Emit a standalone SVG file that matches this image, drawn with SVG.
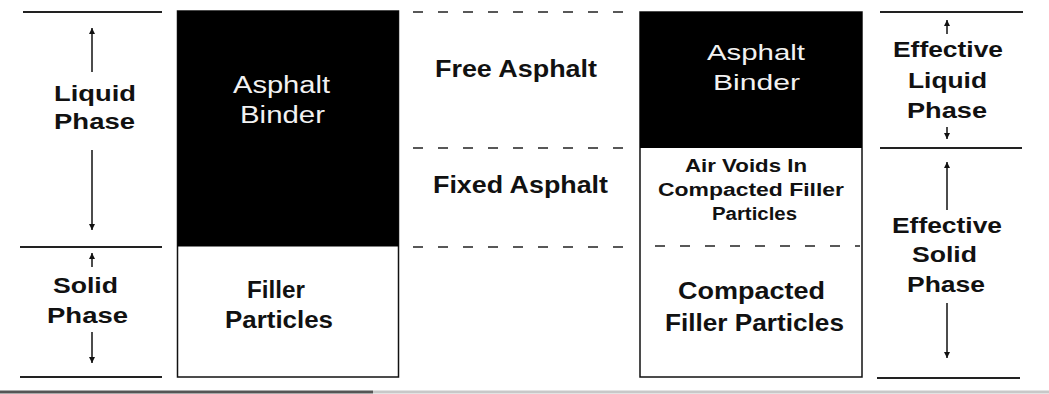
<svg xmlns="http://www.w3.org/2000/svg" width="1049" height="394" viewBox="0 0 1049 394">
<style>
text{font-family:"Liberation Sans",Arial,sans-serif;fill:#111;}
.b{font-weight:bold;}
.w{fill:#f2f2f2;font-weight:normal;}
.rule{stroke:#222;stroke-width:2;}
.dash{stroke:#222;stroke-width:1.5;stroke-dasharray:10 15;}
.arr{stroke:#111;stroke-width:1.5;marker-end:url(#ah);}
.box{fill:#fff;stroke:#111;stroke-width:1.5;}
</style>
<defs>
<marker id="ah" markerUnits="userSpaceOnUse" markerWidth="8" markerHeight="8" refX="6" refY="3" orient="auto">
<path d="M0,0 L6,3 L0,6 z" fill="#111"/>
</marker>
</defs>
<rect x="0" y="0" width="1049" height="394" fill="#fff"/>

<g id="connectors">
<line class="rule" x1="23" y1="12" x2="162" y2="12"/>
<line class="rule" x1="20" y1="247" x2="162" y2="247"/>
<line class="rule" x1="20" y1="377" x2="162" y2="377"/>
<line class="rule" x1="880" y1="12" x2="1023" y2="12"/>
<line class="rule" x1="880" y1="148" x2="1022" y2="148"/>
<line class="rule" x1="877" y1="378" x2="1020" y2="378"/>
<line class="dash" x1="413" y1="12" x2="632" y2="12"/>
<line class="dash" x1="413" y1="148" x2="632" y2="148"/>
<line class="dash" x1="413" y1="247" x2="632" y2="247"/>
<line class="arr" x1="92" y1="72" x2="92" y2="28"/>
<line class="arr" x1="92" y1="150" x2="92" y2="230"/>
<line class="arr" x1="92" y1="267" x2="92" y2="253"/>
<line class="arr" x1="92" y1="332" x2="92" y2="363"/>
<line class="arr" x1="947" y1="34" x2="947" y2="20"/>
<line class="arr" x1="947" y1="127" x2="947" y2="139"/>
<line class="arr" x1="947" y1="210" x2="947" y2="162"/>
<line class="arr" x1="947" y1="303" x2="947" y2="358"/>
<rect x="0" y="390.5" width="373" height="3" fill="#555"/>
<rect x="373" y="390.5" width="676" height="3" fill="#c8c8c8"/>
</g>

<g id="liquid-phase">
<text class="b" x="54" y="101" font-size="22" textLength="82" lengthAdjust="spacingAndGlyphs">Liquid</text>
<text class="b" x="54" y="129" font-size="22" textLength="81" lengthAdjust="spacingAndGlyphs">Phase</text>
</g>
<g id="solid-phase">
<text class="b" x="53" y="293" font-size="22" textLength="65" lengthAdjust="spacingAndGlyphs">Solid</text>
<text class="b" x="47" y="323" font-size="22" textLength="81" lengthAdjust="spacingAndGlyphs">Phase</text>
</g>

<g id="left-column">
<rect class="box" x="177.5" y="11" width="221" height="366"/>
<rect x="177.5" y="11" width="221" height="235.5" fill="#000"/>
<text class="w" x="233" y="93" font-size="23" textLength="97" lengthAdjust="spacingAndGlyphs">Asphalt</text>
<text class="w" x="240" y="123" font-size="23" textLength="85" lengthAdjust="spacingAndGlyphs">Binder</text>
<text class="b" x="247" y="298" font-size="23" textLength="58" lengthAdjust="spacingAndGlyphs">Filler</text>
<text class="b" x="225" y="328" font-size="23" textLength="108" lengthAdjust="spacingAndGlyphs">Particles</text>
</g>

<g id="free-asphalt">
<text class="b" x="435" y="77" font-size="23" textLength="162" lengthAdjust="spacingAndGlyphs">Free Asphalt</text>
</g>
<g id="fixed-asphalt">
<text class="b" x="433" y="193" font-size="23" textLength="175" lengthAdjust="spacingAndGlyphs">Fixed Asphalt</text>
</g>

<g id="right-column">
<rect class="box" x="640" y="12" width="222" height="365"/>
<rect x="640" y="12" width="222" height="136" fill="#000"/>
<line class="dash" x1="655" y1="246" x2="860" y2="246"/>
<text class="w" x="707" y="60" font-size="22" textLength="98" lengthAdjust="spacingAndGlyphs">Asphalt</text>
<text class="w" x="713" y="90" font-size="22" textLength="87" lengthAdjust="spacingAndGlyphs">Binder</text>
<text class="b" x="685" y="172" font-size="18" textLength="122" lengthAdjust="spacingAndGlyphs">Air Voids In</text>
<text class="b" x="658" y="196" font-size="18" textLength="186" lengthAdjust="spacingAndGlyphs">Compacted Filler</text>
<text class="b" x="712" y="220" font-size="18" textLength="85" lengthAdjust="spacingAndGlyphs">Particles</text>
<text class="b" x="678" y="299" font-size="24" textLength="147" lengthAdjust="spacingAndGlyphs">Compacted</text>
<text class="b" x="665" y="331" font-size="24" textLength="179" lengthAdjust="spacingAndGlyphs">Filler Particles</text>
</g>

<g id="effective-liquid-phase">
<text class="b" x="893" y="57" font-size="22" textLength="110" lengthAdjust="spacingAndGlyphs">Effective</text>
<text class="b" x="908" y="88" font-size="22" textLength="79" lengthAdjust="spacingAndGlyphs">Liquid</text>
<text class="b" x="907" y="118" font-size="22" textLength="80" lengthAdjust="spacingAndGlyphs">Phase</text>
</g>
<g id="effective-solid-phase">
<text class="b" x="892" y="233" font-size="22" textLength="110" lengthAdjust="spacingAndGlyphs">Effective</text>
<text class="b" x="912" y="262" font-size="22" textLength="65" lengthAdjust="spacingAndGlyphs">Solid</text>
<text class="b" x="907" y="292" font-size="22" textLength="78" lengthAdjust="spacingAndGlyphs">Phase</text>
</g>
</svg>
